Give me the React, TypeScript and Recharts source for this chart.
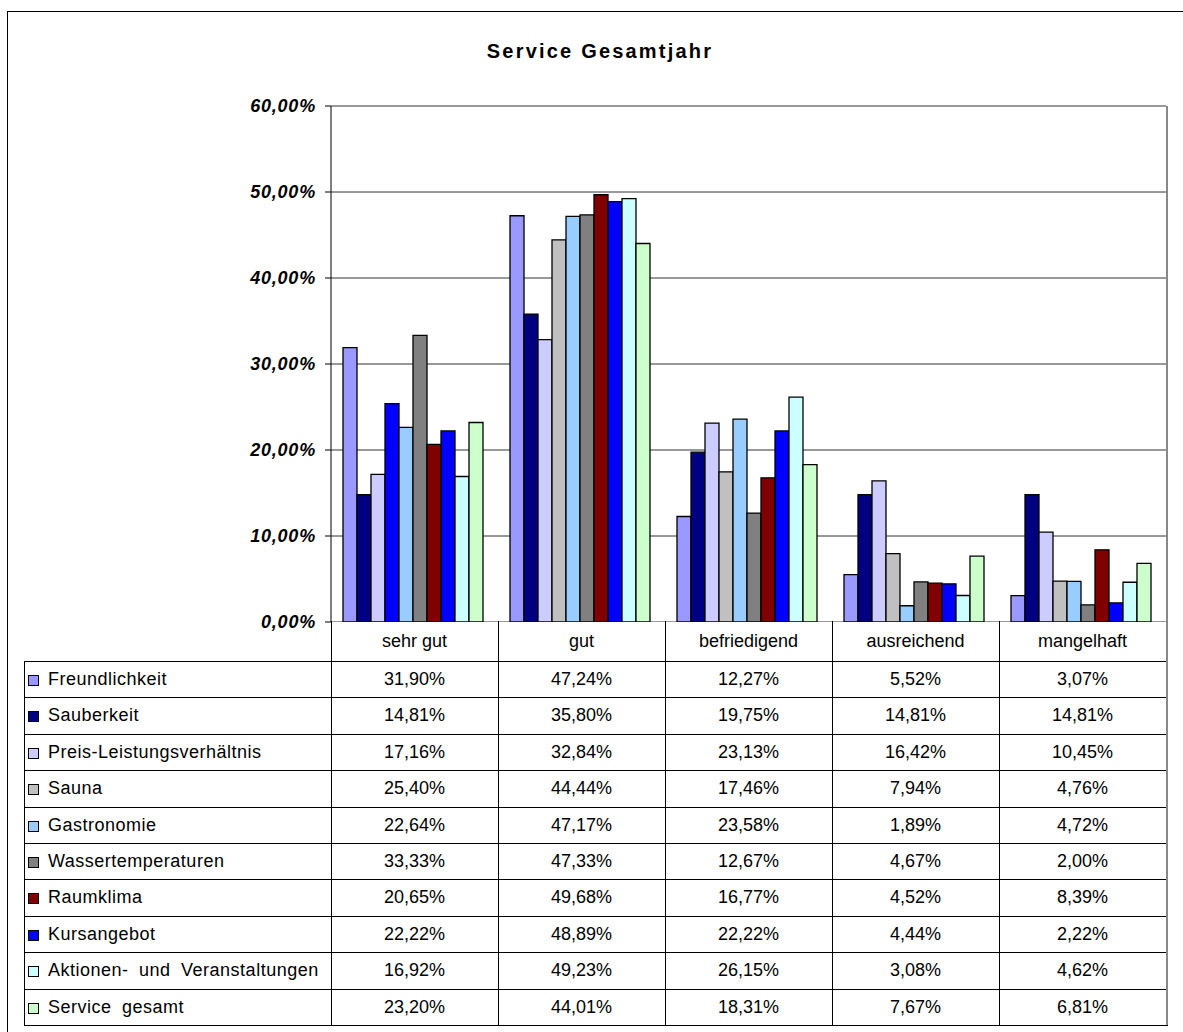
import { Bar, BarChart, CartesianGrid, Cell, XAxis, YAxis } from "recharts";

const categories = ["sehr gut", "gut", "befriedigend", "ausreichend", "mangelhaft"];

const seriesNames = [
  "Freundlichkeit",
  "Sauberkeit",
  "Preis-Leistungsverhältnis",
  "Sauna",
  "Gastronomie",
  "Wassertemperaturen",
  "Raumklima",
  "Kursangebot",
  "Aktionen- und Veranstaltungen",
  "Service gesamt",
];

const seriesColors = [
  "#9999FF",
  "#000080",
  "#CCCCFF",
  "#C0C0C0",
  "#99CCFF",
  "#808080",
  "#800000",
  "#0000FF",
  "#CCFFFF",
  "#CCFFCC",
];

const freundlichkeit = [31.9, 47.24, 12.27, 5.52, 3.07];
const sauberkeit = [14.81, 35.8, 19.75, 14.81, 14.81];
const preisLeistung = [17.16, 32.84, 23.13, 16.42, 10.45];
const sauna = [25.4, 44.44, 17.46, 7.94, 4.76];
const gastronomie = [22.64, 47.17, 23.58, 1.89, 4.72];
const wassertemperaturen = [33.33, 47.33, 12.67, 4.67, 2.0];
const raumklima = [20.65, 49.68, 16.77, 4.52, 8.39];
const kursangebot = [22.22, 48.89, 22.22, 4.44, 2.22];
const aktionen = [16.92, 49.23, 26.15, 3.08, 4.62];
const serviceGesamt = [23.2, 44.01, 18.31, 7.67, 6.81];

const seriesValues = [
  freundlichkeit,
  sauberkeit,
  preisLeistung,
  sauna,
  gastronomie,
  wassertemperaturen,
  raumklima,
  kursangebot,
  aktionen,
  serviceGesamt,
];

const yTicks = [0, 10, 20, 30, 40, 50, 60];

const data = categories.map((c, ci) => {
  const row: Record<string, number | string> = { cat: c };
  seriesValues.forEach((vals, si) => {
    row[`s${si}`] = vals[ci];
  });
  return row;
});

const fmt = (v: number) => v.toFixed(2).replace(".", ",") + "%";

const FONT = "'Liberation Sans', Arial, sans-serif";
const W = 1183;
const PLOT_L = 331;
const PLOT_R = 1166;
const PLOT_T = 106;
const PLOT_B = 621;
const HEADER_H = 40;
const ROW_H = 36.4;
const TABLE_L = 24;
const COL_W = (PLOT_R - PLOT_L) / categories.length;

// the original file paints the Sauna bar of "sehr gut" in blue
const pointOverride: Record<string, string> = { "3-0": "#0000FF" };

function YTick({ x, y, payload }: any) {
  return (
    <text
      x={x}
      y={y}
      dy={6}
      textAnchor="end"
      fontFamily={FONT}
      fontSize={18}
      fontWeight="bold"
      fontStyle="italic"
      letterSpacing={0.8}
      fill="#000"
    >
      {fmt(payload.value)}
    </text>
  );
}

const cellText = {
  fontSize: 18,
};

export default function App() {
  const tableTop = PLOT_B + HEADER_H;
  const tableBottom = tableTop + ROW_H * seriesNames.length;
  return (
    <div
      style={{
        position: "absolute",
        left: 0,
        top: 0,
        width: W,
        height: 1032,
        overflow: "hidden",
        background: "#fff",
        fontFamily: FONT,
      }}
    >
      <div
        style={{
          position: "absolute",
          left: 7,
          top: 11,
          width: 1190,
          height: 1040,
          border: "1px solid #000",
        }}
      />
      <div
        style={{
          position: "absolute",
          left: 0,
          width: 1200,
          top: 40,
          textAlign: "center",
          fontSize: 20,
          fontWeight: "bold",
          letterSpacing: 2.2,
        }}
      >
        Service Gesamtjahr
      </div>
      <div style={{ position: "absolute", left: 0, top: 0 }}>
        <BarChart
          width={W}
          height={PLOT_B + 20}
          data={data}
          margin={{ top: PLOT_T, right: W - PLOT_R, bottom: 19, left: 0 }}
          barGap={0}
          barCategoryGap={12}
        >
          <CartesianGrid vertical={false} stroke="#333" strokeWidth={1} />
          <XAxis dataKey="cat" height={0} tick={false} tickLine={false} axisLine={{ stroke: "#000" }} />
          <YAxis
            width={PLOT_L}
            domain={[0, 60]}
            ticks={yTicks}
            interval={0}
            tick={<YTick />}
            tickSize={6}
            tickMargin={9}
            tickLine={{ stroke: "#000" }}
            axisLine={{ stroke: "#000" }}
          />
          {seriesNames.map((name, si) => (
            <Bar
              key={name}
              dataKey={`s${si}`}
              name={name}
              fill={seriesColors[si]}
              stroke="#000"
              strokeWidth={1.3}
              isAnimationActive={false}
            >
              {categories.map((c, ci) => (
                <Cell key={c} fill={pointOverride[`${si}-${ci}`] ?? seriesColors[si]} />
              ))}
            </Bar>
          ))}
        </BarChart>
      </div>
      {/* white cover under the axis so the chart area ends at the table */}
      <div
        style={{
          position: "absolute",
          left: PLOT_L + 1,
          top: PLOT_B + 1,
          width: PLOT_R - PLOT_L,
          height: 20,
          background: "#fff",
        }}
      />
      {/* right frame of plot and table */}
      <div
        style={{
          position: "absolute",
          left: PLOT_R,
          top: PLOT_T,
          width: 2,
          height: tableBottom - PLOT_T,
          background: "#888",
        }}
      />
      {/* column separators */}
      {categories.map((c, ci) => (
        <div
          key={`v${c}`}
          style={{
            position: "absolute",
            left: PLOT_L + ci * COL_W,
            top: PLOT_B,
            width: 1,
            height: tableBottom - PLOT_B,
            background: "#000",
          }}
        />
      ))}
      <div
        style={{
          position: "absolute",
          left: TABLE_L,
          top: tableTop,
          width: 1,
          height: tableBottom - tableTop,
          background: "#000",
        }}
      />
      {/* header labels */}
      {categories.map((c, ci) => (
        <div
          key={`h${c}`}
          style={{
            position: "absolute",
            left: PLOT_L + ci * COL_W,
            width: COL_W,
            top: PLOT_B,
            height: HEADER_H,
            lineHeight: `${HEADER_H}px`,
            textAlign: "center",
            ...cellText,
          }}
        >
          {c}
        </div>
      ))}
      {/* rows */}
      {seriesNames.map((name, si) => {
        const top = tableTop + si * ROW_H;
        return (
          <div key={name}>
            <div
              style={{
                position: "absolute",
                left: TABLE_L,
                top,
                width: PLOT_R - TABLE_L,
                height: 1,
                background: "#000",
              }}
            />
            <div
              style={{
                position: "absolute",
                left: 28,
                top: top + 14,
                width: 9,
                height: 9,
                background: seriesColors[si],
                border: "1px solid #000",
              }}
            />
            <div
              style={{
                position: "absolute",
                left: 48,
                top,
                height: ROW_H,
                lineHeight: `${ROW_H}px`,
                fontSize: 18,
                letterSpacing: 0.5,
                wordSpacing: 5,
                whiteSpace: "nowrap",
              }}
            >
              {name}
            </div>
            {seriesValues[si].map((v, ci) => (
              <div
                key={ci}
                style={{
                  position: "absolute",
                  left: PLOT_L + ci * COL_W,
                  width: COL_W,
                  top,
                  height: ROW_H,
                  lineHeight: `${ROW_H}px`,
                  textAlign: "center",
                  ...cellText,
                }}
              >
                {fmt(v)}
              </div>
            ))}
          </div>
        );
      })}
      <div
        style={{
          position: "absolute",
          left: TABLE_L,
          top: tableBottom,
          width: PLOT_R - TABLE_L + 2,
          height: 1,
          background: "#000",
        }}
      />
    </div>
  );
}
